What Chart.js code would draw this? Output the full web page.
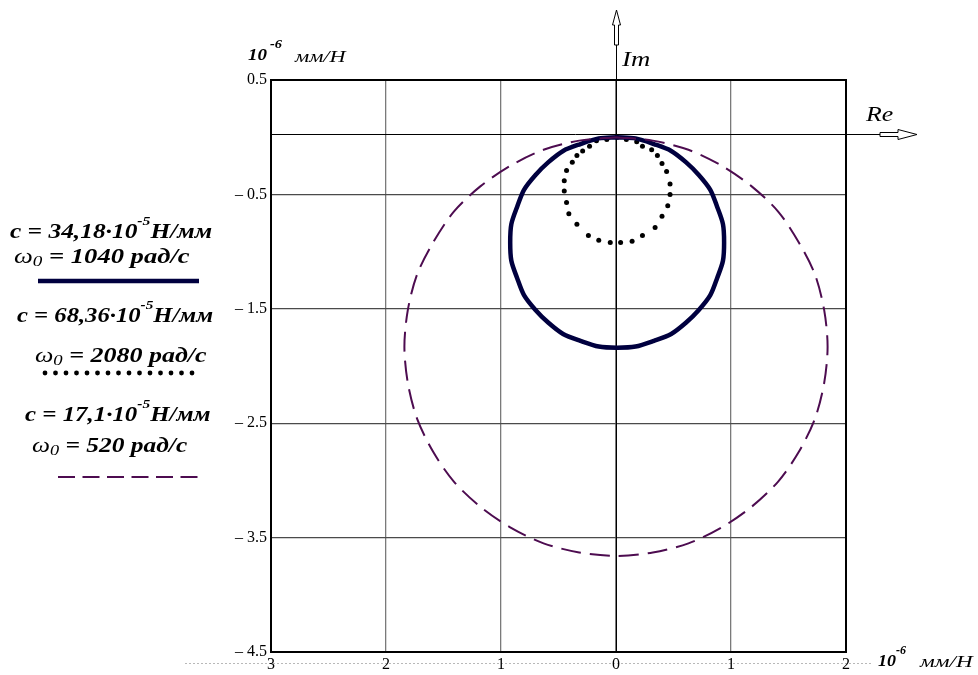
<!DOCTYPE html>
<html>
<head>
<meta charset="utf-8">
<script src="https://cdn.jsdelivr.net/npm/chart.js@4"></script>
<style>
  html, body { margin: 0; padding: 0; background: #fff; }
  #wrap { position: relative; width: 978px; height: 675px; overflow: hidden; }
  #wrap canvas { position: absolute; left: 0; top: 0; }
  .t { position: absolute; white-space: nowrap; line-height: 1; color: #000;
       font-family: "Liberation Serif", "Times New Roman", serif; transform-origin: 0 0; }
  .bi { font-weight: bold; font-style: italic; }
  .it { font-style: italic; font-weight: normal; }
  .sup { position: relative; font-size: 0.62em; top: -1.05em; }
  .sub { position: relative; font-size: 0.72em; top: 0.2em; }
</style>
</head>
<body>
<div id="wrap">
  <canvas id="c" width="978" height="675"></canvas>

  <!-- axis units -->
  <div class="t bi" data-w="19" style="left:248px;top:45.8px;font-size:17px">10</div>
  <div class="t bi" data-w="12" style="left:270px;top:38px;font-size:12px">-6</div>
  <div class="t it" data-w="50" style="left:295px;top:48.6px;font-size:16px">мм/Н</div>

  <div class="t bi" data-w="18" style="left:878px;top:651.8px;font-size:17px">10</div>
  <div class="t bi" data-w="10" style="left:896px;top:644px;font-size:12px">-6</div>
  <div class="t it" data-w="52" style="left:920px;top:653.6px;font-size:16px">мм/Н</div>

  <!-- axis names -->
  <div class="t it" data-w="28" style="left:622px;top:49.4px;font-size:21px">Im</div>
  <div class="t it" data-w="27" style="left:866px;top:102.6px;font-size:22px">Re</div>

  <!-- series captions -->
  <div class="t bi" data-w="202" style="left:10px;top:221.4px;font-size:21px">c = 34,18·10<span class="sup">-5</span>Н/мм</div>
  <div class="t bi" data-w="176" style="left:14px;top:246.4px;font-size:21px"><span class="it">ω<span class="sub">0</span></span> = 1040 рад/с</div>

  <div class="t bi" data-w="196" style="left:17px;top:305.4px;font-size:21px">c = 68,36·10<span class="sup">-5</span>Н/мм</div>
  <div class="t bi" data-w="172" style="left:35px;top:345.4px;font-size:21px"><span class="it">ω<span class="sub">0</span></span> = 2080 рад/с</div>

  <div class="t bi" data-w="186" style="left:25px;top:404.4px;font-size:21px">c = 17,1·10<span class="sup">-5</span>Н/мм</div>
  <div class="t bi" data-w="155" style="left:32px;top:435.4px;font-size:21px"><span class="it">ω<span class="sub">0</span></span> = 520 рад/с</div>
</div>

<script>
// Tick positions (units of 10^-6 мм/Н)
const xTicks = [-3, -2, -1, 0, 1, 2];
const yTicks = [0.5, -0.5, -1.5, -2.5, -3.5, -4.5];

// c = 34,18·10^-5 Н/мм, ω0 = 1040 рад/с
const solidRe = [0.01, 0.17, 0.33, 0.48, 0.61, 0.72, 0.82, 0.88, 0.93, 0.94, 0.93, 0.88, 0.82, 0.72, 0.61, 0.48, 0.33, 0.17, 0.01,
                 -0.15, -0.31, -0.46, -0.59, -0.70, -0.80, -0.86, -0.91, -0.92, -0.91, -0.86, -0.80, -0.70, -0.59, -0.46, -0.31, -0.15, 0.01];
const solidIm = [0.00, -0.01, -0.06, -0.12, -0.22, -0.33, -0.46, -0.61, -0.76, -0.92, -1.08, -1.23, -1.38, -1.51, -1.62, -1.72, -1.78, -1.83, -1.84,
                 -1.83, -1.78, -1.72, -1.62, -1.51, -1.38, -1.23, -1.08, -0.92, -0.76, -0.61, -0.46, -0.33, -0.22, -0.12, -0.06, -0.01, 0.00];

// c = 68,36·10^-5 Н/мм, ω0 = 2080 рад/с
const dotRe = [0.01, 0.09, 0.18, 0.23, 0.31, 0.36, 0.40, 0.44, 0.47, 0.47, 0.45, 0.40, 0.34, 0.23, 0.14, 0.04,
               -0.05, -0.15, -0.24, -0.34, -0.41, -0.43, -0.45, -0.45, -0.43, -0.38, -0.34, -0.29, -0.23, -0.17, -0.08];
const dotIm = [0.00, -0.02, -0.04, -0.08, -0.11, -0.16, -0.23, -0.30, -0.41, -0.50, -0.60, -0.69, -0.79, -0.86, -0.91, -0.92,
               -0.92, -0.90, -0.86, -0.76, -0.67, -0.57, -0.47, -0.38, -0.29, -0.22, -0.16, -0.12, -0.08, -0.03, -0.02];

// c = 17,1·10^-5 Н/мм, ω0 = 520 рад/с
const dashRe = [0.00, 0.32, 0.63, 0.92, 1.18, 1.41, 1.59, 1.73, 1.81, 1.84, 1.81, 1.73, 1.59, 1.41, 1.18, 0.92, 0.63, 0.32, 0.00,
                -0.32, -0.63, -0.92, -1.18, -1.41, -1.59, -1.73, -1.81, -1.84, -1.81, -1.73, -1.59, -1.41, -1.18, -0.92, -0.63, -0.32, 0.00];
const dashIm = [0.00, -0.03, -0.11, -0.25, -0.43, -0.65, -0.92, -1.20, -1.51, -1.83, -2.15, -2.46, -2.75, -3.01, -3.23, -3.41, -3.55, -3.63, -3.66,
                -3.63, -3.55, -3.41, -3.23, -3.01, -2.75, -2.46, -2.15, -1.83, -1.51, -1.20, -0.92, -0.65, -0.43, -0.25, -0.11, -0.03, 0.00];

const SOLID_COLOR = '#00003f';
const DASH_COLOR = '#4d0c50';

const pts = (re, im) => re.map((v, i) => ({ x: v, y: im[i] }));

// Stretch each caption horizontally to its set width
function fitTexts() {
  document.querySelectorAll('.t[data-w]').forEach(el => {
    const w = el.offsetWidth;
    if (w > 0) el.style.transform = 'scaleX(' + (parseFloat(el.dataset.w) / w) + ')';
  });
}
fitTexts();
if (document.fonts && document.fonts.ready) document.fonts.ready.then(fitTexts);

// Axes with hollow arrows, plot frame, caption samples, dotted baseline
const decor = {
  id: 'decor',
  beforeDraw(chart) {
    const ctx = chart.ctx;
    ctx.save();
    ctx.strokeStyle = '#b8b8b8';
    ctx.lineWidth = 1;
    ctx.setLineDash([2, 2]);
    ctx.beginPath();
    ctx.moveTo(185, 663.5);
    ctx.lineTo(872, 663.5);
    ctx.stroke();
    ctx.restore();
  },
  beforeDatasetsDraw(chart) {
    const { ctx, chartArea: a, scales: { x, y } } = chart;
    const x0 = Math.round(x.getPixelForValue(0)) + 0.5;
    const y0 = Math.round(y.getPixelForValue(0)) - 2.5;
    ctx.save();
    ctx.strokeStyle = '#000';
    ctx.lineWidth = 1;
    ctx.beginPath();
    ctx.moveTo(x0, 45); ctx.lineTo(x0, a.bottom);
    ctx.moveTo(a.left, y0); ctx.lineTo(880, y0);
    ctx.stroke();
    // Im arrow
    ctx.fillStyle = '#fff';
    ctx.beginPath();
    ctx.moveTo(x0 - 2, 45); ctx.lineTo(x0 - 2, 25); ctx.lineTo(x0 - 4, 25);
    ctx.lineTo(x0, 10); ctx.lineTo(x0 + 4, 25); ctx.lineTo(x0 + 2, 25); ctx.lineTo(x0 + 2, 45);
    ctx.closePath(); ctx.fill(); ctx.stroke();
    // Re arrow
    ctx.beginPath();
    ctx.moveTo(880, y0 - 2); ctx.lineTo(898, y0 - 2); ctx.lineTo(898, y0 - 5);
    ctx.lineTo(917, y0); ctx.lineTo(898, y0 + 5); ctx.lineTo(898, y0 + 2); ctx.lineTo(880, y0 + 2);
    ctx.closePath(); ctx.fill(); ctx.stroke();
    ctx.restore();
  },
  afterDraw(chart) {
    const { ctx, chartArea: a } = chart;
    ctx.save();
    ctx.strokeStyle = '#000';
    ctx.lineWidth = 2;
    ctx.strokeRect(a.left, a.top, a.right - a.left, a.bottom - a.top);

    // caption samples
    ctx.strokeStyle = SOLID_COLOR;
    ctx.lineWidth = 4.5;
    ctx.beginPath(); ctx.moveTo(38, 281); ctx.lineTo(199, 281); ctx.stroke();

    ctx.fillStyle = '#000';
    for (let i = 0; i < 15; i++) {
      ctx.beginPath(); ctx.arc(45 + i * 10.5, 373, 2.4, 0, Math.PI * 2); ctx.fill();
    }

    ctx.strokeStyle = DASH_COLOR;
    ctx.lineWidth = 2;
    ctx.setLineDash([17, 7.5]);
    ctx.beginPath(); ctx.moveTo(58, 477); ctx.lineTo(198, 477); ctx.stroke();
    ctx.restore();
  }
};

const tickFont = { family: '"Liberation Serif", "Times New Roman", serif', size: 16 };

new Chart(document.getElementById('c'), {
  type: 'scatter',
  data: {
    datasets: [
      { data: pts(dashRe, dashIm), showLine: true, borderColor: DASH_COLOR, borderWidth: 2,
        borderDash: [20, 9], pointRadius: 0, tension: 0.3, fill: false },
      { data: pts(solidRe, solidIm), showLine: true, borderColor: SOLID_COLOR, borderWidth: 4.5,
        pointRadius: 0, tension: 0.3, fill: false },
      { data: pts(dotRe, dotIm), showLine: false, pointRadius: 2.5, pointBorderWidth: 0,
        pointBackgroundColor: '#000', pointBorderColor: '#000' }
    ]
  },
  options: {
    responsive: false,
    animation: false,
    devicePixelRatio: 1,
    layout: { padding: { top: 80, right: 132, bottom: 0, left: 0 } },
    plugins: { legend: { display: false }, tooltip: { enabled: false } },
    scales: {
      x: {
        type: 'linear', min: -3, max: 2,
        afterBuildTicks: s => { s.ticks = xTicks.map(v => ({ value: v })); },
        afterFit: s => { s.height = 23; },
        border: { display: false },
        grid: { color: '#7a7a7a', lineWidth: 1.3, drawTicks: false },
        ticks: { font: tickFont, color: '#000', padding: 3, maxRotation: 0, autoSkip: false,
                 callback: v => String(Math.abs(v)) }
      },
      y: {
        type: 'linear', min: -4.5, max: 0.5,
        afterBuildTicks: s => { s.ticks = yTicks.map(v => ({ value: v })); },
        afterFit: s => { s.width = 271; },
        border: { display: false },
        grid: { color: '#4a4a4a', lineWidth: 1.3, drawTicks: false },
        ticks: { font: tickFont, color: '#000', padding: 4, autoSkip: false,
                 callback: v => v < 0 ? '– ' + Math.abs(v).toFixed(1) : v.toFixed(1) }
      }
    }
  },
  plugins: [decor]
});
</script>
</body>
</html>
